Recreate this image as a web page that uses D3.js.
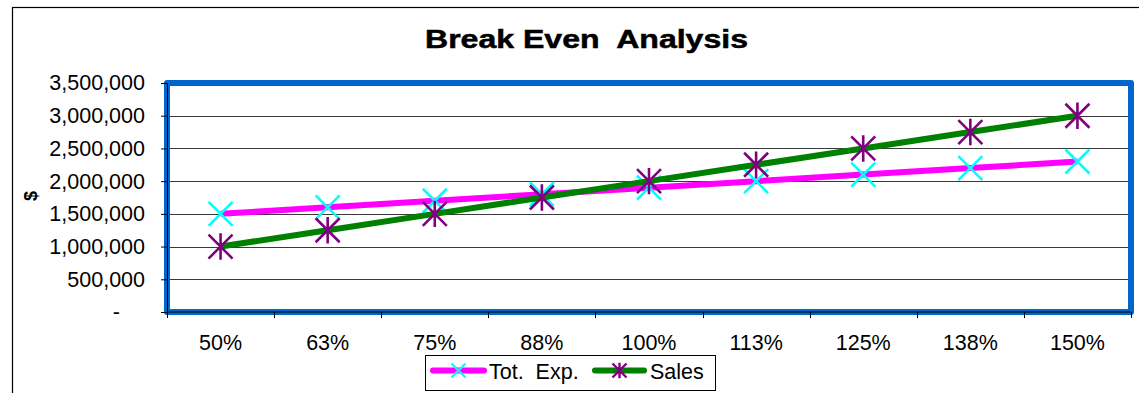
<!DOCTYPE html>
<html>
<head>
<meta charset="utf-8">
<script src="https://cdn.jsdelivr.net/npm/d3@7"></script>
<style>
  html, body { margin: 0; padding: 0; background: #fff; }
  svg { display: block; font-family: "Liberation Sans", Arial, sans-serif; }
  text { white-space: pre; }
</style>
</head>
<body>
<svg id="chart" width="1139" height="393"></svg>
<script>
// Activity level (share of planned volume)
const levels = ["50%", "63%", "75%", "88%", "100%", "113%", "125%", "138%", "150%"];
// Total expenses at each activity level ($)
const totExp = [1500000, 1600000, 1700000, 1800000, 1900000, 2000000, 2100000, 2200000, 2300000];
// Sales revenue at each activity level ($)
const sales = [1000000, 1250000, 1500000, 1750000, 2000000, 2250000, 2500000, 2750000, 3000000];
// Value axis ticks
const yTicks = [0, 500000, 1000000, 1500000, 2000000, 2500000, 3000000, 3500000];

const svg = d3.select("#chart");
const W = 1139, H = 393;
const plot = { left: 167, right: 1131, top: 83, bottom: 312 };

// Outer chart frame (extends beyond the visible area on the right and bottom)
svg.append("rect")
  .attr("x", 12.5).attr("y", 7.5)
  .attr("width", W + 20).attr("height", H + 20)
  .attr("fill", "#fff").attr("stroke", "#000").attr("stroke-width", 1.2);

// Title
svg.append("text")
  .attr("x", 425).attr("y", 48)
  .attr("font-size", 25).attr("font-weight", "bold")
  .attr("stroke", "#000").attr("stroke-width", 0.5)
  .attr("textLength", 323).attr("lengthAdjust", "spacingAndGlyphs")
  .text("Break Even  Analysis");

const x = d3.scaleBand().domain(levels).range([plot.left, plot.right]);
const y = d3.scaleLinear().domain([0, 3500000]).range([plot.bottom, plot.top]);

// Plot area background
svg.append("rect")
  .attr("x", plot.left).attr("y", plot.top)
  .attr("width", plot.right - plot.left).attr("height", plot.bottom - plot.top)
  .attr("fill", "#fff");

// Horizontal gridlines
svg.append("g")
  .selectAll("line")
  .data(yTicks.filter(d => d > 0 && d < 3500000))
  .join("line")
  .attr("x1", plot.left).attr("x2", plot.right)
  .attr("y1", d => Math.round(y(d)) + 0.5).attr("y2", d => Math.round(y(d)) + 0.5)
  .attr("stroke", "#3a3a3a").attr("stroke-width", 1);

// Plot area border
svg.append("rect")
  .attr("x", plot.left).attr("y", plot.top)
  .attr("width", plot.right - plot.left).attr("height", plot.bottom - plot.top)
  .attr("fill", "none").attr("stroke", "#0066CC").attr("stroke-width", 6)
  .attr("stroke-linejoin", "round");

// Value axis
const fmt = d => d === 0 ? "-" : d3.format(",")(d);
const yAxis = svg.append("g")
  .attr("transform", `translate(${plot.left},0)`)
  .call(d3.axisLeft(y).tickValues(yTicks).tickFormat(fmt).tickSize(6).tickPadding(16));
yAxis.select(".domain").attr("stroke", "#000");
yAxis.selectAll(".tick line").attr("stroke", "#000");
yAxis.selectAll(".tick text")
  .attr("font-size", 21.5).attr("fill", "#000")
  .attr("font-family", "Liberation Sans, Arial, sans-serif")
  .attr("dx", d => d === 0 ? -25 : 0);

// Category axis with ticks between categories
const xAxisG = svg.append("g").attr("transform", `translate(0,${plot.bottom})`);
xAxisG.append("line")
  .attr("x1", plot.left).attr("x2", plot.right)
  .attr("y1", 0).attr("y2", 0).attr("stroke", "#000");
xAxisG.selectAll("line.tk")
  .data(levels.concat(["end"]))
  .join("line").attr("class", "tk")
  .attr("x1", (d, i) => Math.round(plot.left + i * x.step()) + 0.5)
  .attr("x2", (d, i) => Math.round(plot.left + i * x.step()) + 0.5)
  .attr("y1", 0).attr("y2", 6).attr("stroke", "#000");
xAxisG.selectAll("text")
  .data(levels)
  .join("text")
  .attr("x", d => x(d) + x.bandwidth() / 2)
  .attr("y", 38)
  .attr("text-anchor", "middle")
  .attr("font-size", 21.5)
  .text(d => d);

// Y axis title
svg.append("text")
  .attr("transform", "translate(37,196) rotate(-90)")
  .attr("text-anchor", "middle")
  .attr("font-size", 18).attr("font-weight", "bold")
  .text("$");

// Marker shapes
function xMark(g, cx, cy, r, color, sw) {
  g.append("path")
    .attr("d", `M${cx - r},${cy - r}L${cx + r},${cy + r}M${cx - r},${cy + r}L${cx + r},${cy - r}`)
    .attr("stroke", color).attr("stroke-width", sw).attr("fill", "none");
}
function starMark(g, cx, cy, r, color, sw) {
  g.append("path")
    .attr("d", `M${cx - r},${cy - r}L${cx + r},${cy + r}M${cx - r},${cy + r}L${cx + r},${cy - r}M${cx},${cy - r * 1.1}L${cx},${cy + r * 1.1}`)
    .attr("stroke", color).attr("stroke-width", sw).attr("fill", "none");
}

const series = [
  { name: "Tot.  Exp.", values: totExp, line: "#FF00FF", mark: "#00FFFF", marker: xMark },
  { name: "Sales", values: sales, line: "#008000", mark: "#800080", marker: starMark }
];

const lineGen = d3.line()
  .x((d, i) => x(levels[i]) + x.bandwidth() / 2)
  .y(d => y(d));

series.forEach(s => {
  const g = svg.append("g");
  g.append("path")
    .datum(s.values)
    .attr("d", lineGen)
    .attr("fill", "none")
    .attr("stroke", s.line)
    .attr("stroke-width", 6)
    .attr("stroke-linejoin", "round");
  s.values.forEach((v, i) => {
    s.marker(g, x(levels[i]) + x.bandwidth() / 2, y(v), 12, s.mark, 2.6);
  });
});

// Legend
const lg = svg.append("g");
lg.append("rect")
  .attr("x", 425.5).attr("y", 355.5).attr("width", 290).attr("height", 35)
  .attr("fill", "#fff").attr("stroke", "#000").attr("stroke-width", 1);
const legendItems = [
  { s: series[0], x0: 430, x1: 487, tx: 489 },
  { s: series[1], x0: 592, x1: 647, tx: 650 }
];
legendItems.forEach(it => {
  const cy = 370.5;
  lg.append("line")
    .attr("x1", it.x0 + 3).attr("x2", it.x1 - 3)
    .attr("y1", cy).attr("y2", cy)
    .attr("stroke", it.s.line).attr("stroke-width", 6).attr("stroke-linecap", "round");
  it.s.marker(lg, (it.x0 + it.x1) / 2, cy, 7, it.s.mark, 2.4);
  lg.append("text")
    .attr("x", it.tx).attr("y", cy + 8)
    .attr("font-size", 21.5)
    .text(it.s.name);
});
</script>
</body>
</html>
